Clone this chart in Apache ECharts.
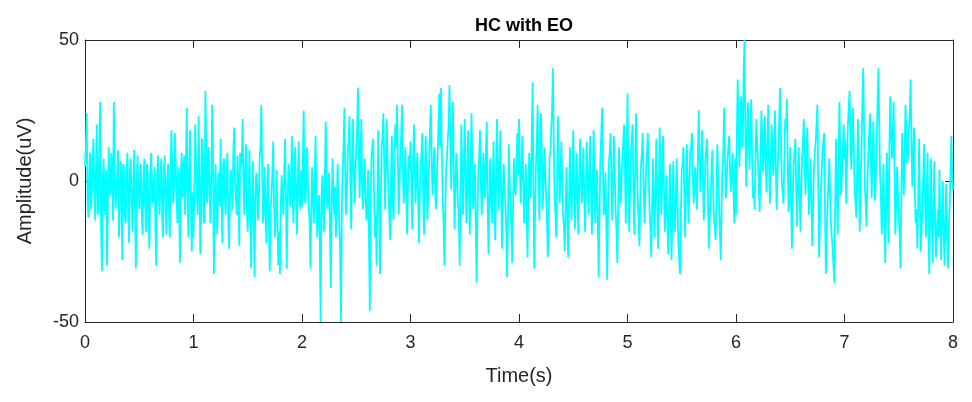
<!DOCTYPE html>
<html>
<head>
<meta charset="utf-8">
<script src="https://cdn.jsdelivr.net/npm/echarts@6/dist/echarts.min.js"></script>
<style>html,body{margin:0;padding:0;background:#fff}#c{width:972px;height:402px}</style>
</head>
<body>
<div id="c"></div>
<script>
// Chart text
var titleText = 'HC with EO';
var xName = 'Time(s)';
var yName = 'Amplitude(uV)';
var samplesPerSecond = 128;
var xTicks = [0, 1, 2, 3, 4, 5, 6, 7, 8];
var yTicks = [-50, 0, 50];

// Amplitude (uV): for each second, the even samples (secN)
// and the odd samples between them (midN)
var sec0 = [5,24,-13,10,-5,15,-14,20,-8,28,-32,8,-12,-30,12,-5,5,28,-10,2,-20,7,-28,5,-15,10,-22,8,-18,11,-31,9,-10,6,-19,8,-18,3,-24,10,-8,5,-30,9,-12,8,-20,9,-19,6,-20,18,-8,17,-5,5,-29,10,4,-12,26,-20,18,-25];
var mid0 = [12,-6,2,-10,8,-3,5,-12,14,-18,0,-9,4,-8,-2,10,-14,3,-5,11,-10,-2,6,-12,2,-8,4,-6,-3,-10,0,-5,3,-12,0,-9,6,-14,-2,1,-6,-15,0,-4,2,-12,3,-8,1,-10,5,4,-2,6,-15,-9,2,-6,9,4,-5,5,-8,-4];
var sec1 = [-20,20,-5,23,-26,15,-14,32,-8,12,-15,27,-33,6,-19,3,15,-22,8,-12,10,-24,4,-10,19,-6,9,-23,5,22,-12,13,-18,11,-31,7,-34,3,-14,8,27,-15,5,-22,6,-32,-5,14,-20,4,-30,-33,2,-12,15,-31,6,-9,16,-15,12,-19,14,-10];
var mid1 = [-2,6,-12,4,-10,8,-15,12,5,-6,0,10,-10,-8,2,-9,-4,6,-5,4,-14,-6,-2,10,0,-12,-3,10,8,-2,4,-10,-5,-12,-8,-14,-6,-2,-8,12,5,-10,-12,-4,-16,-10,2,-8,-12,-14,-18,-8,-6,2,-4,-10,2,-3,-6,0,-5,-2,-6,4];
var sec2 = [-9,25,-8,12,-10,-31,5,-15,16,-20,-5,-50,2,-18,21,-10,3,-38,8,-12,-20,6,-15,-50,5,26,-12,10,23,-17,22,-8,12,33,-6,22,-10,8,-14,4,-46,9,15,-20,-30,18,-33,12,24,-10,22,-5,-21,16,-14,20,27,-12,10,27,-8,12,-19,9];
var mid2 = [8,-4,0,-2,-15,-10,-6,0,-8,-12,-22,-6,-10,2,-4,-6,-18,-10,-4,-2,-8,-6,-25,-10,12,4,-4,14,0,6,4,2,18,12,8,-2,2,-6,-10,-20,-8,12,-4,-12,-6,-10,-8,16,6,8,6,-12,0,-6,4,12,10,-2,16,4,0,-6,-2,4];
var sec3 = [14,-17,20,-8,10,-22,5,17,-19,16,-14,6,27,-5,12,-10,8,31,33,-6,-30,4,15,34,-3,28,-17,10,-8,-30,20,-12,22,-15,18,-19,24,-10,6,-36,4,18,-12,10,-6,21,-26,8,-15,14,-21,22,-10,18,-24,6,-8,-34,13,-10,-29,8,-5,17];
var mid3 = [0,4,6,2,-6,-4,10,-4,2,-2,-2,18,8,4,-2,0,20,12,10,-15,-10,8,20,12,14,6,-4,2,-12,-6,4,6,2,0,-4,6,4,-1,-15,-12,8,0,-2,2,10,-8,-8,-4,0,-6,0,6,2,-6,-6,-2,-18,-12,0,-16,-10,-2,6,2];
var sec4 = [22,-8,16,-15,6,-27,10,-6,35,-31,5,27,-14,24,-10,12,-5,-27,8,18,40,-6,-20,23,-8,14,-12,-25,5,-27,12,-14,18,-17,10,-19,15,-8,12,-18,14,-12,16,-19,18,-15,4,-34,8,26,-12,3,-35,6,17,-14,16,-10,-29,12,-8,9,20,-15];
var mid4 = [6,4,0,-4,-10,-8,2,14,0,-12,14,4,6,8,0,2,-14,-12,10,25,15,-12,0,6,2,0,-16,-10,-10,-8,-2,0,0,-4,-6,0,2,0,-6,-2,0,2,-4,0,2,-6,-14,-12,16,6,-10,-14,-12,10,2,0,2,-18,-10,2,0,14,4,8];
var sec5 = [31,-18,10,20,-19,24,-5,-23,6,17,-15,5,17,-10,-27,8,-20,15,-24,19,-12,16,-18,2,-26,6,-28,7,-18,8,-22,-33,4,12,-20,13,-15,11,17,-8,5,-10,25,-4,18,-14,8,15,-24,-5,11,-14,-21,13,-8,-28,5,26,-6,8,16,-4,10,-15];
var mid5 = [2,-4,14,-2,0,8,-14,-8,10,0,-6,10,2,-16,-10,-6,-2,-6,-4,2,2,-2,-10,-14,-12,-12,-10,-10,-6,-8,-28,-12,6,-4,-4,-2,-2,12,4,-2,-4,10,8,6,0,-4,12,-8,-14,2,-2,-16,-4,2,-18,-10,10,8,0,12,4,2,-2,8];
var sec6 = [-12,36,5,30,12,50,-2,28,4,29,-6,-10,22,6,-11,25,3,23,-4,27,-8,20,2,25,-10,12,33,0,-8,22,29,-11,12,-24,6,15,-16,12,-18,8,22,-5,19,-12,8,-23,5,14,27,-27,-5,10,17,-33,-10,8,-15,-24,-36,15,-19,28,-5,10];
var mid6 = [15,20,18,22,38,20,14,16,18,8,-2,8,14,-4,10,14,12,8,12,6,6,10,14,4,2,22,16,-4,8,18,8,0,-8,-6,10,-2,-4,-2,-4,14,8,6,2,-2,-8,-10,10,20,0,-14,2,14,-10,-18,0,-4,-20,-30,-8,-4,6,10,2,20];
var sec7 = [8,-8,20,32,4,26,-3,-13,22,-18,10,40,-2,-16,8,24,-6,21,-7,12,40,2,-19,6,-29,10,-22,30,8,28,-19,5,-12,-31,17,-5,27,6,18,36,-2,19,-15,-24,15,-25,-8,13,-20,10,-33,8,-29,7,-27,-10,4,-28,0,-30,-1,-31,-10,16];
var mid7 = [14,6,26,16,14,10,-8,6,2,0,26,20,-8,0,16,10,8,6,2,28,20,-6,-8,-12,-10,-6,12,18,16,4,-8,-4,-18,-8,6,12,16,10,24,16,6,-4,-10,-6,-8,-16,2,-6,-6,-18,-12,-14,-10,-16,-18,-20,-14,-12,-18,-16,-20,-18,2,4];
var lastSample = [-3];

var evens = [sec0, sec1, sec2, sec3, sec4, sec5, sec6, sec7];
var odds = [mid0, mid1, mid2, mid3, mid4, mid5, mid6, mid7];
var amplitude = [];
evens.forEach(function (arr, s) {
  arr.forEach(function (v, i) {
    amplitude.push(v);
    amplitude.push(odds[s][i]);
  });
});
amplitude = amplitude.concat(lastSample);
var points = amplitude.map(function (v, k) { return [k / samplesPerSecond, v]; });

var axisColor = '#262626';
var fontFam = 'Liberation Sans, Arial, sans-serif';

var chart = echarts.init(document.getElementById('c'), null, {renderer: 'canvas'});
var tickCommon = {show: true, inside: true, length: 8, lineStyle: {color: axisColor, width: 1}};
chart.setOption({
  animation: false,
  backgroundColor: '#ffffff',
  title: {
    text: titleText, left: 519, top: 12, textAlign: 'center',
    textStyle: {fontFamily: fontFam, fontSize: 18, fontWeight: 'bold', color: '#000'}
  },
  grid: {left: 85, right: 19, top: 40, bottom: 80, containLabel: false},
  xAxis: [{
    type: 'value', min: xTicks[0], max: xTicks[xTicks.length - 1], interval: 1, position: 'bottom',
    name: xName, nameLocation: 'middle', nameGap: 44,
    nameTextStyle: {fontFamily: fontFam, fontSize: 20, color: axisColor},
    axisLine: {show: true, onZero: false, lineStyle: {color: axisColor, width: 1}},
    axisTick: tickCommon,
    axisLabel: {fontFamily: fontFam, fontSize: 18, color: axisColor, margin: 12},
    splitLine: {show: false}
  }, {
    type: 'value', min: xTicks[0], max: xTicks[xTicks.length - 1], interval: 1, position: 'top',
    axisLine: {show: true, onZero: false, lineStyle: {color: axisColor, width: 1}},
    axisTick: tickCommon, axisLabel: {show: false}, splitLine: {show: false}
  }],
  yAxis: [{
    type: 'value', min: yTicks[0], max: yTicks[yTicks.length - 1], interval: 50, position: 'left',
    name: yName, nameLocation: 'middle', nameGap: 50,
    nameTextStyle: {fontFamily: fontFam, fontSize: 20, color: axisColor},
    axisLine: {show: true, onZero: false, lineStyle: {color: axisColor, width: 1}},
    axisTick: tickCommon,
    axisLabel: {fontFamily: fontFam, fontSize: 18, color: axisColor, margin: 6},
    splitLine: {show: false}
  }, {
    type: 'value', min: yTicks[0], max: yTicks[yTicks.length - 1], interval: 50, position: 'right',
    axisLine: {show: true, onZero: false, lineStyle: {color: axisColor, width: 1}},
    axisTick: tickCommon, axisLabel: {show: false}, splitLine: {show: false}
  }],
  series: [{
    type: 'line', data: points, xAxisIndex: 0, yAxisIndex: 0,
    showSymbol: false, symbol: 'none', clip: true, sampling: null, progressive: 0,
    lineStyle: {color: '#00FFFF', width: 1.8},
    z: 1
  }]
});
</script>
</body>
</html>
